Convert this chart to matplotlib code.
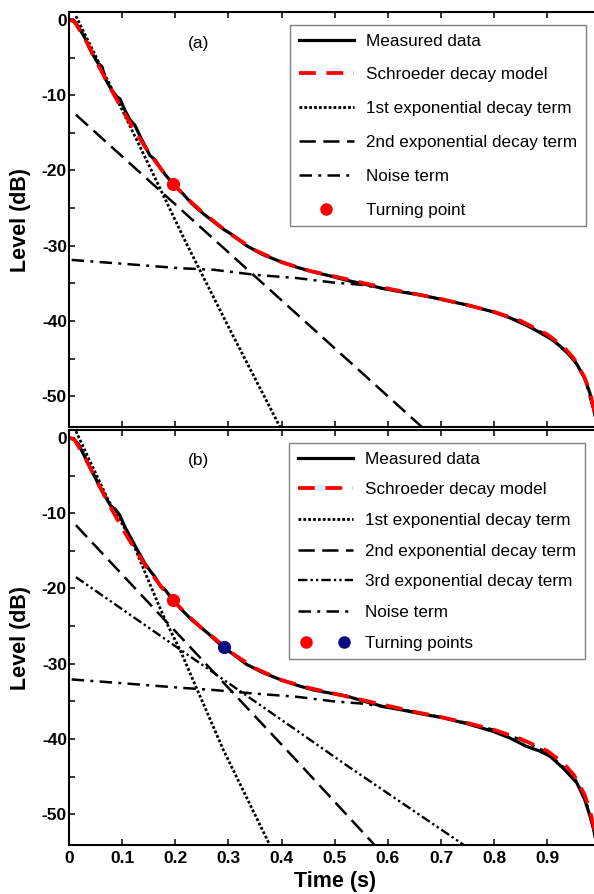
import numpy as np
import matplotlib
matplotlib.use('Agg')
import matplotlib.pyplot as plt
import matplotlib.lines as mlines
from matplotlib.legend_handler import HandlerTuple
from matplotlib.ticker import MultipleLocator

plt.rcParams['font.family'] = ['Liberation Sans', 'DejaVu Sans']

# ---- panel (a) ----
t_meas_a = [0.0, 0.008, 0.0175, 0.030, 0.043, 0.055, 0.062, 0.068, 0.080, 0.090, 0.096, 0.105, 0.115,
            0.124, 0.134, 0.145, 0.152, 0.162, 0.174, 0.185, 0.196, 0.213, 0.231, 0.25, 0.268, 0.29,
            0.306, 0.334, 0.365, 0.397, 0.43, 0.46, 0.49, 0.522, 0.555, 0.591, 0.63, 0.665, 0.704,
            0.75, 0.798, 0.83, 0.861, 0.885, 0.911, 0.935, 0.955, 0.97, 0.98, 0.987, 0.995]
meas_a = [0.0, 0.0, -0.9, -2.4, -4.4, -5.8, -6.2, -7.8, -9.3, -10.2, -10.5, -12.0, -13.3,
          -14.0, -15.5, -17.0, -18.0, -18.6, -19.9, -20.9, -21.8, -23.0, -24.4, -25.6, -26.6, -27.8,
          -28.5, -30.0, -31.2, -32.1, -32.9, -33.5, -34.0, -34.6, -35.1, -35.7, -36.2, -36.6, -37.2,
          -37.9, -38.8, -39.6, -40.6, -41.5, -42.6, -44.0, -45.7, -47.6, -49.6, -51.6, -54.5]
t_model_a = [0.0, 0.01, 0.03, 0.05, 0.075, 0.1, 0.125, 0.15, 0.175, 0.2, 0.225, 0.25, 0.275, 0.3,
             0.35, 0.4, 0.45, 0.5, 0.55, 0.6, 0.65, 0.7, 0.75, 0.8, 0.85, 0.9, 0.93, 0.95, 0.97,
             0.98, 0.99, 0.998]
model_a = [0.0, -0.2, -2.5, -5.3, -8.7, -11.9, -14.9, -17.6, -20.0, -22.1, -23.9, -25.5, -26.9, -28.3,
           -30.6, -32.2, -33.3, -34.1, -34.9, -35.7, -36.4, -37.1, -37.9, -38.8, -40.0, -41.8, -43.4,
           -45.0, -47.5, -49.4, -52.5, -56.0]
t_exp1_a = [0.013, 0.0865, 0.149, 0.218, 0.303, 0.397, 0.41]
exp1_a = [0.5, -10.0, -19.1, -29.3, -41.2, -54.1, -56.0]
t_exp2_a = [0.013, 0.435, 0.664, 0.68]
exp2_a = [-12.6, -39.5, -54.1, -55.1]
t_noise_a = [0.005, 0.1, 0.209, 0.272, 0.353, 0.428, 0.497, 0.55, 0.6, 0.65, 0.7, 0.75, 0.8, 0.85,
             0.9, 0.95, 0.97, 0.99, 0.998]
noise_a = [-31.9, -32.4, -33.0, -33.2, -33.9, -34.3, -34.9, -35.2, -35.8, -36.4, -37.1, -37.9, -38.8,
           -40.1, -41.9, -45.1, -47.6, -52.6, -56.0]
turn_a_t = [0.196]
turn_a_l = [-21.8]

# ---- panel (b) ----
t_meas_b = [0.0, 0.008, 0.0175, 0.036, 0.055, 0.074, 0.080, 0.086, 0.095, 0.105, 0.124, 0.143,
            0.152, 0.162, 0.172, 0.181, 0.196, 0.213, 0.231, 0.262, 0.29, 0.31, 0.334, 0.365, 0.397,
            0.43, 0.46, 0.49, 0.522, 0.555, 0.591, 0.63, 0.665, 0.704, 0.75, 0.798, 0.83, 0.861,
            0.885, 0.905, 0.93, 0.955, 0.97, 0.98, 0.987, 0.995]
meas_b = [0.0, -0.1, -0.8, -3.4, -6.1, -8.5, -9.2, -9.4, -10.2, -11.8, -14.3, -16.7,
          -17.6, -18.5, -19.7, -20.2, -21.6, -22.9, -24.2, -26.0, -27.8, -28.8, -30.1, -31.2, -32.1,
          -32.9, -33.5, -33.9, -34.3, -35.0, -35.7, -36.2, -36.7, -37.2, -38.0, -39.0, -39.9, -41.0,
          -41.6, -42.3, -43.9, -45.8, -48.0, -50.2, -52.0, -55.0]
t_model_b = [0.0, 0.01, 0.03, 0.05, 0.075, 0.1, 0.125, 0.15, 0.175, 0.2, 0.225, 0.25, 0.275, 0.3,
             0.35, 0.4, 0.45, 0.5, 0.55, 0.6, 0.65, 0.7, 0.75, 0.8, 0.85, 0.9, 0.93, 0.95, 0.97,
             0.98, 0.99, 0.998]
model_b = [0.0, -0.2, -2.6, -5.4, -8.8, -12.0, -14.9, -17.6, -19.9, -21.9, -23.7, -25.3, -26.7, -28.3,
           -30.6, -32.2, -33.2, -34.0, -34.8, -35.6, -36.4, -37.1, -37.9, -38.8, -40.0, -41.6, -43.2,
           -44.8, -47.4, -49.5, -52.5, -56.0]
t_exp1_b = [0.013, 0.074, 0.118, 0.149, 0.181, 0.209, 0.290, 0.375, 0.39]
exp1_b = [0.9, -8.3, -13.6, -18.9, -24.2, -28.2, -41.4, -53.7, -56.0]
t_exp2_b = [0.013, 0.435, 0.571, 0.585]
exp2_b = [-11.6, -43.4, -53.8, -55.0]
t_exp3_b = [0.013, 0.435, 0.522, 0.741, 0.76]
exp3_b = [-18.5, -39.2, -43.5, -54.0, -55.0]
t_noise_b = [0.005, 0.1, 0.209, 0.272, 0.353, 0.428, 0.497, 0.55, 0.6, 0.65, 0.7, 0.75, 0.8, 0.85,
             0.9, 0.95, 0.97, 0.99, 0.998]
noise_b = [-32.1, -32.6, -33.2, -33.5, -34.0, -34.4, -35.0, -35.3, -35.8, -36.4, -37.1, -37.9, -38.8,
           -40.1, -41.8, -45.0, -47.6, -52.6, -56.0]
turn_b_t = [0.196, 0.291]
turn_b_l = [-21.6, -27.8]

xticks = [0, 0.1, 0.2, 0.3, 0.4, 0.5, 0.6, 0.7, 0.8, 0.9, 1.0]
xticklabels = ['0', '0.1', '0.2', '0.3', '0.4', '0.5', '0.6', '0.7', '0.8', '0.9', '']
yticks = [0, -10, -20, -30, -40, -50]

navy = '#0a0a82'
st_meas = dict(color='k', linewidth=2.3, linestyle='-')
st_model = dict(color='red', linewidth=2.7, linestyle=(0, (4.5, 2.8)))
st_exp1 = dict(color='k', linewidth=2.0, linestyle=(0, (1.0, 0.75)))
st_exp2 = dict(color='k', linewidth=1.8, linestyle=(0, (6.5, 3.0)))
st_exp3 = dict(color='k', linewidth=1.7, linestyle=(0, (4.0, 1.3, 1.0, 1.3, 1.0, 1.3)))
st_noise = dict(color='k', linewidth=1.8, linestyle=(0, (5.0, 2.5, 1.2, 2.5)))

fig = plt.figure(figsize=(5.94, 8.94), dpi=100)
left = 69 / 594.
width = (600.5 - 69) / 594.
ax1 = fig.add_axes([left, 1 - 427 / 894., width, 415 / 894.])
ax2 = fig.add_axes([left, 1 - 845 / 894., width, 415 / 894.])


def style_axes(ax, show_x):
    ax.set_xlim(0, 1.0)
    ax.set_ylim(-54.1, 1.05)
    ax.set_xticks(xticks)
    ax.set_yticks(yticks)
    ax.yaxis.set_minor_locator(MultipleLocator(5))
    ax.tick_params(which='both', direction='in', top=True, right=True, width=1.1)
    ax.tick_params(which='major', length=4.5)
    ax.tick_params(which='minor', length=4.0)
    ax.tick_params(axis='y', pad=1.5)
    ax.tick_params(axis='x', pad=4)
    if show_x:
        ax.set_xticklabels(xticklabels, fontsize=12.5, fontweight='bold')
    else:
        ax.set_xticklabels([])
    ax.set_yticklabels([str(v) for v in yticks], fontsize=12.5, fontweight='bold')
    for s in ax.spines.values():
        s.set_linewidth(1.5)
    ax.set_ylabel('Level (dB)', fontsize=15.5, fontweight='bold')
    ax.yaxis.set_label_coords(-0.071, 0.5)


# panel (a)
ax1.plot(t_exp1_a, exp1_a, **st_exp1)
ax1.plot(t_exp2_a, exp2_a, **st_exp2)
ax1.plot(t_noise_a, noise_a, **st_noise)
ax1.plot(t_meas_a, meas_a, **st_meas)
ax1.plot(t_model_a, model_a, **st_model)
ax1.plot(turn_a_t, turn_a_l, 'o', color='red', markersize=8.5, zorder=5)
ax1.text(0.243, -3.1, '(a)', fontsize=12.5, ha='center', va='center')
style_axes(ax1, False)

h_meas = mlines.Line2D([], [], **st_meas)
h_model = mlines.Line2D([], [], **st_model)
h_exp1 = mlines.Line2D([], [], **st_exp1)
h_exp2 = mlines.Line2D([], [], **st_exp2)
h_exp3 = mlines.Line2D([], [], **st_exp3)
h_noise = mlines.Line2D([], [], **st_noise)
h_red = mlines.Line2D([], [], color='red', marker='o', linestyle='', markersize=8)
h_blue = mlines.Line2D([], [], color=navy, marker='o', linestyle='', markersize=8)

leg_kw = dict(loc='upper right', bbox_transform=fig.transFigure, fontsize=12.3, frameon=True,
              fancybox=False, framealpha=1, edgecolor='#808080', handlelength=3.2,
              handletextpad=0.75, borderpad=0.5, borderaxespad=0)
leg1 = ax1.legend([h_meas, h_model, h_exp1, h_exp2, h_noise, h_red],
                  ['Measured data', 'Schroeder decay model', '1st exponential decay term',
                   '2nd exponential decay term', 'Noise term', 'Turning point'],
                  bbox_to_anchor=(586 / 594., 1 - 25 / 894.), labelspacing=1.1, **leg_kw)
leg1.get_frame().set_linewidth(1.0)

# panel (b)
ax2.plot(t_exp1_b, exp1_b, **st_exp1)
ax2.plot(t_exp2_b, exp2_b, **st_exp2)
ax2.plot(t_exp3_b, exp3_b, **st_exp3)
ax2.plot(t_noise_b, noise_b, **st_noise)
ax2.plot(t_meas_b, meas_b, **st_meas)
ax2.plot(t_model_b, model_b, **st_model)
ax2.plot(turn_b_t[:1], turn_b_l[:1], 'o', color='red', markersize=8.5, zorder=5)
ax2.plot(turn_b_t[1:], turn_b_l[1:], 'o', color=navy, markersize=8.5, zorder=5)
ax2.text(0.243, -3.0, '(b)', fontsize=12.5, ha='center', va='center')
style_axes(ax2, True)
ax2.set_xlabel('Time (s)', fontsize=15.5, fontweight='bold')
ax2.xaxis.set_label_coords(0.5, -0.062)

leg2 = ax2.legend([h_meas, h_model, h_exp1, h_exp2, h_exp3, h_noise, (h_red, h_blue)],
                  ['Measured data', 'Schroeder decay model', '1st exponential decay term',
                   '2nd exponential decay term', '3rd exponential decay term', 'Noise term',
                   'Turning points'],
                  handler_map={tuple: HandlerTuple(ndivide=None, pad=1.2)},
                  bbox_to_anchor=(585 / 594., 1 - 443 / 894.), labelspacing=0.92, **leg_kw)
leg2.get_frame().set_linewidth(1.0)

fig.savefig('out.png', dpi=100)
